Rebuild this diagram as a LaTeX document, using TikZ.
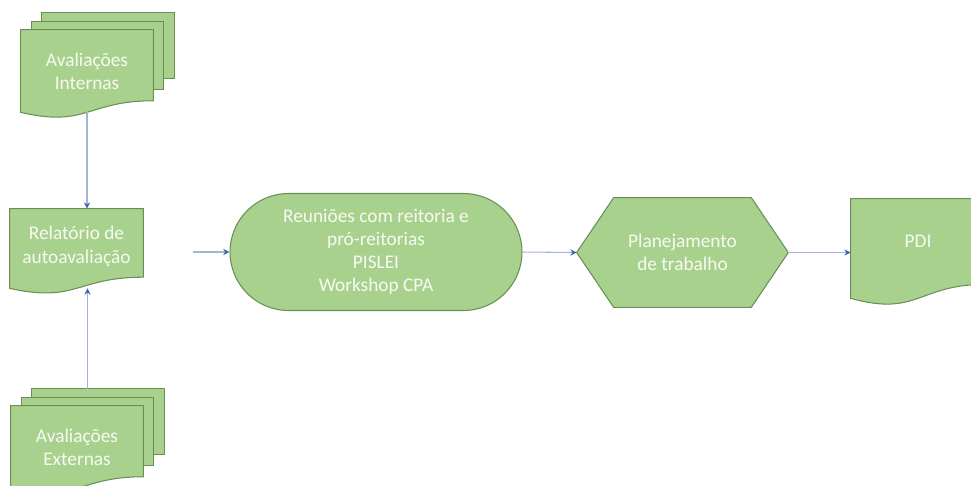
\documentclass[tikz,border=0pt]{standalone}
\usepackage{fontspec}
\setmainfont{Carlito}
\usetikzlibrary{positioning,calc,backgrounds,arrows.meta}
\definecolor{boxfill}{HTML}{A9D18E}
\definecolor{boxline}{HTML}{6A8F55}
\definecolor{boxtext}{HTML}{F6FAF1}
\definecolor{linkline}{HTML}{A3B5D6}
\definecolor{linktip}{HTML}{4266AE}
\tikzset{
  shapeline/.style={fill=boxfill, draw=boxline, line width=0.6pt
  },
  txt/.style={text=boxtext, align=center, inner sep=0mm,
    font=\fontsize{11pt}{13.2pt}\selectfont
  },
  stackbox/.style={txt, minimum width=2.64cm, minimum height=1.64cm
  },
  docbox/.style={txt, text depth=#1
  },
  docbox/.default=0.27cm,
  meetbox/.style={txt, shapeline, rounded corners=1.17cm, minimum width=5.84cm,
    minimum height=2.34cm
  },
  planbox/.style={txt, minimum width=4.22cm, minimum height=2.18cm
  },
  link/.style={draw=linkline, line width=0.6pt,
    -{Stealth[length=3.6pt, width=3.6pt, color=linktip]}
  }
}
% document outline, the wave crosses #1.south
\newcommand{\docshape}[1]{%
  \filldraw[shapeline] (#1.north west) -- (#1.north east)
    -- ($(#1.north east)!0.86!(#1.south east)$)
    .. controls ($(#1.north)!0.86!(#1.south)$) and ($(#1.north)!1.187!(#1.south)$)
    .. (#1.south west) -- cycle;}
% two sheets behind the document
\newcommand{\stackshape}[1]{%
  \coordinate (#1-end) at ($(#1.north east)!0.86!(#1.south east)$);
  \foreach \k in {2,1}
    \filldraw[shapeline] ([shift={(\k*0.21cm,\k*0.17cm)}]#1.north west)
      rectangle ([shift={(\k*0.21cm,\k*0.22cm)}]#1-end);
  \docshape{#1}}

\begin{document}
\begin{tikzpicture}[x=0.02cm, y=-0.02cm]
   \useasboundingbox (0,0) rectangle (971,485);

   \node[stackbox] (intern) at (87,71) {Avaliações\\Internas};
   \node[stackbox] (ext) at (77,447) {Avaliações\\Externas};
   \node[docbox=0.15cm, minimum width=2.66cm, minimum height=1.58cm] (rel) at (76.5,248.5) {Relatório de\\autoavaliação};
   \node[meetbox] (reun) at (376,252) {Reuniões com reitoria e\\pró-reitorias\\PISLEI\\Workshop CPA};
   \node[planbox] (plan) at (682.5,252.5) {Planejamento\\de trabalho};
   \node[docbox, minimum width=2.68cm, minimum height=1.98cm] (pdi) at (918,248.5) {PDI};

   \begin{pgfonlayer}{background}
     \stackshape{intern}
     \stackshape{ext}
     \docshape{rel}
     \docshape{pdi}
     \filldraw[shapeline] (plan.west) -- ([xshift=0.74cm]plan.north west)
       -- ([xshift=-0.74cm]plan.north east) -- (plan.east)
       -- ([xshift=-0.74cm]plan.south east) -- ([xshift=0.74cm]plan.south west) -- cycle;
   \end{pgfonlayer}

   \coordinate (ext-top) at ([shift={(0.21cm,0.34cm)}]ext.north);
   \draw[link] (intern.south) -- (intern.south |- rel.north);
   \draw[link] (ext-top) -- (ext-top |- rel.south);
   \draw[link, shorten <=1cm] (rel.east |- reun.west) -- (reun.west);
   \draw[link] (reun.east) -- (plan.west);
   \draw[link] (plan.east) -- (plan.east -| pdi.west);
\end{tikzpicture}
\end{document}
